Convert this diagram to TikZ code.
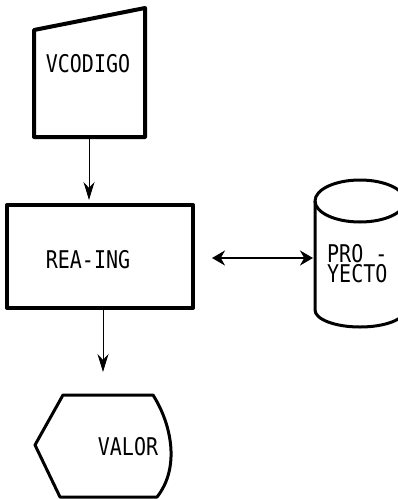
\documentclass[tikz,border=0pt]{standalone}
\usepackage{graphicx}
\usepackage{fontspec}
\setmonofont{DejaVu Sans Mono}
\usetikzlibrary{arrows.meta}
\newcommand{\tallt}[1]{\scalebox{1}[1.22]{#1}}
\tikzset{
  chartline/.style={draw=black, line width=4pt, line join=round},
  chartthin/.style={chartline, line width=3pt},
  chartlabel/.style={font=\fontsize{20}{20}\selectfont\ttfamily, inner sep=0pt},
  flowarrow/.style={-{Stealth[length=18pt,width=11pt]}, line width=1pt},
  linkarrow/.style={{Stealth[length=13pt,width=15pt]}-{Stealth[length=13pt,width=15pt]}, line width=1.8pt}
}
\begin{document}
\begin{tikzpicture}[x=1pt, y=-1pt]
  \clip (0,0) rectangle (398,499);

  % Manual input
  \draw[chartline] (34,30) -- (145,8) -- (145,137) -- (34,137) -- cycle;
  \node[chartlabel] (vcodigo) at (88,64) {\tallt{VCODIGO}};
  \coordinate (vcodigo-out) at (89,137);

  % Process
  \node[chartline, minimum width=186pt, minimum height=103pt, inner sep=0pt] (reaing) at (100,256.5) {};
  \node[chartlabel] (reaingtxt) at (88,260) {\tallt{REA-ING}};

  % Storage
  \draw[chartthin] (405,201) -- (405,310) arc[start angle=0, end angle=180, x radius=45, y radius=17] -- (315,201);
  \draw[chartthin] (360,201) ellipse[x radius=45, y radius=21];
  \node[chartlabel, anchor=west] (proyecto-a) at (327,253.5) {\tallt{PRO -}};
  \node[chartlabel, anchor=west] (proyecto-b) at (327,273.5) {\tallt{YECTO}};
  \coordinate (proyecto-w) at (313,258);

  % Display
  \draw[chartthin] (63,395) -- (153,395) .. controls (172,425) and (180,468) .. (157,497)
    -- (60,497) -- (35,445) -- cycle;
  \node[chartlabel] (valor) at (128,447) {\tallt{VALOR}};
  \coordinate (valor-in) at (103,372);

  % Connectors
  \draw[flowarrow, shorten >=3pt] (vcodigo-out) -- (vcodigo-out |- reaing.north);
  \draw[flowarrow] (reaing.south -| valor-in) -- (valor-in);
  \draw[linkarrow, shorten <=17pt] (reaing.east |- proyecto-w) -- (proyecto-w);
\end{tikzpicture}
\end{document}
